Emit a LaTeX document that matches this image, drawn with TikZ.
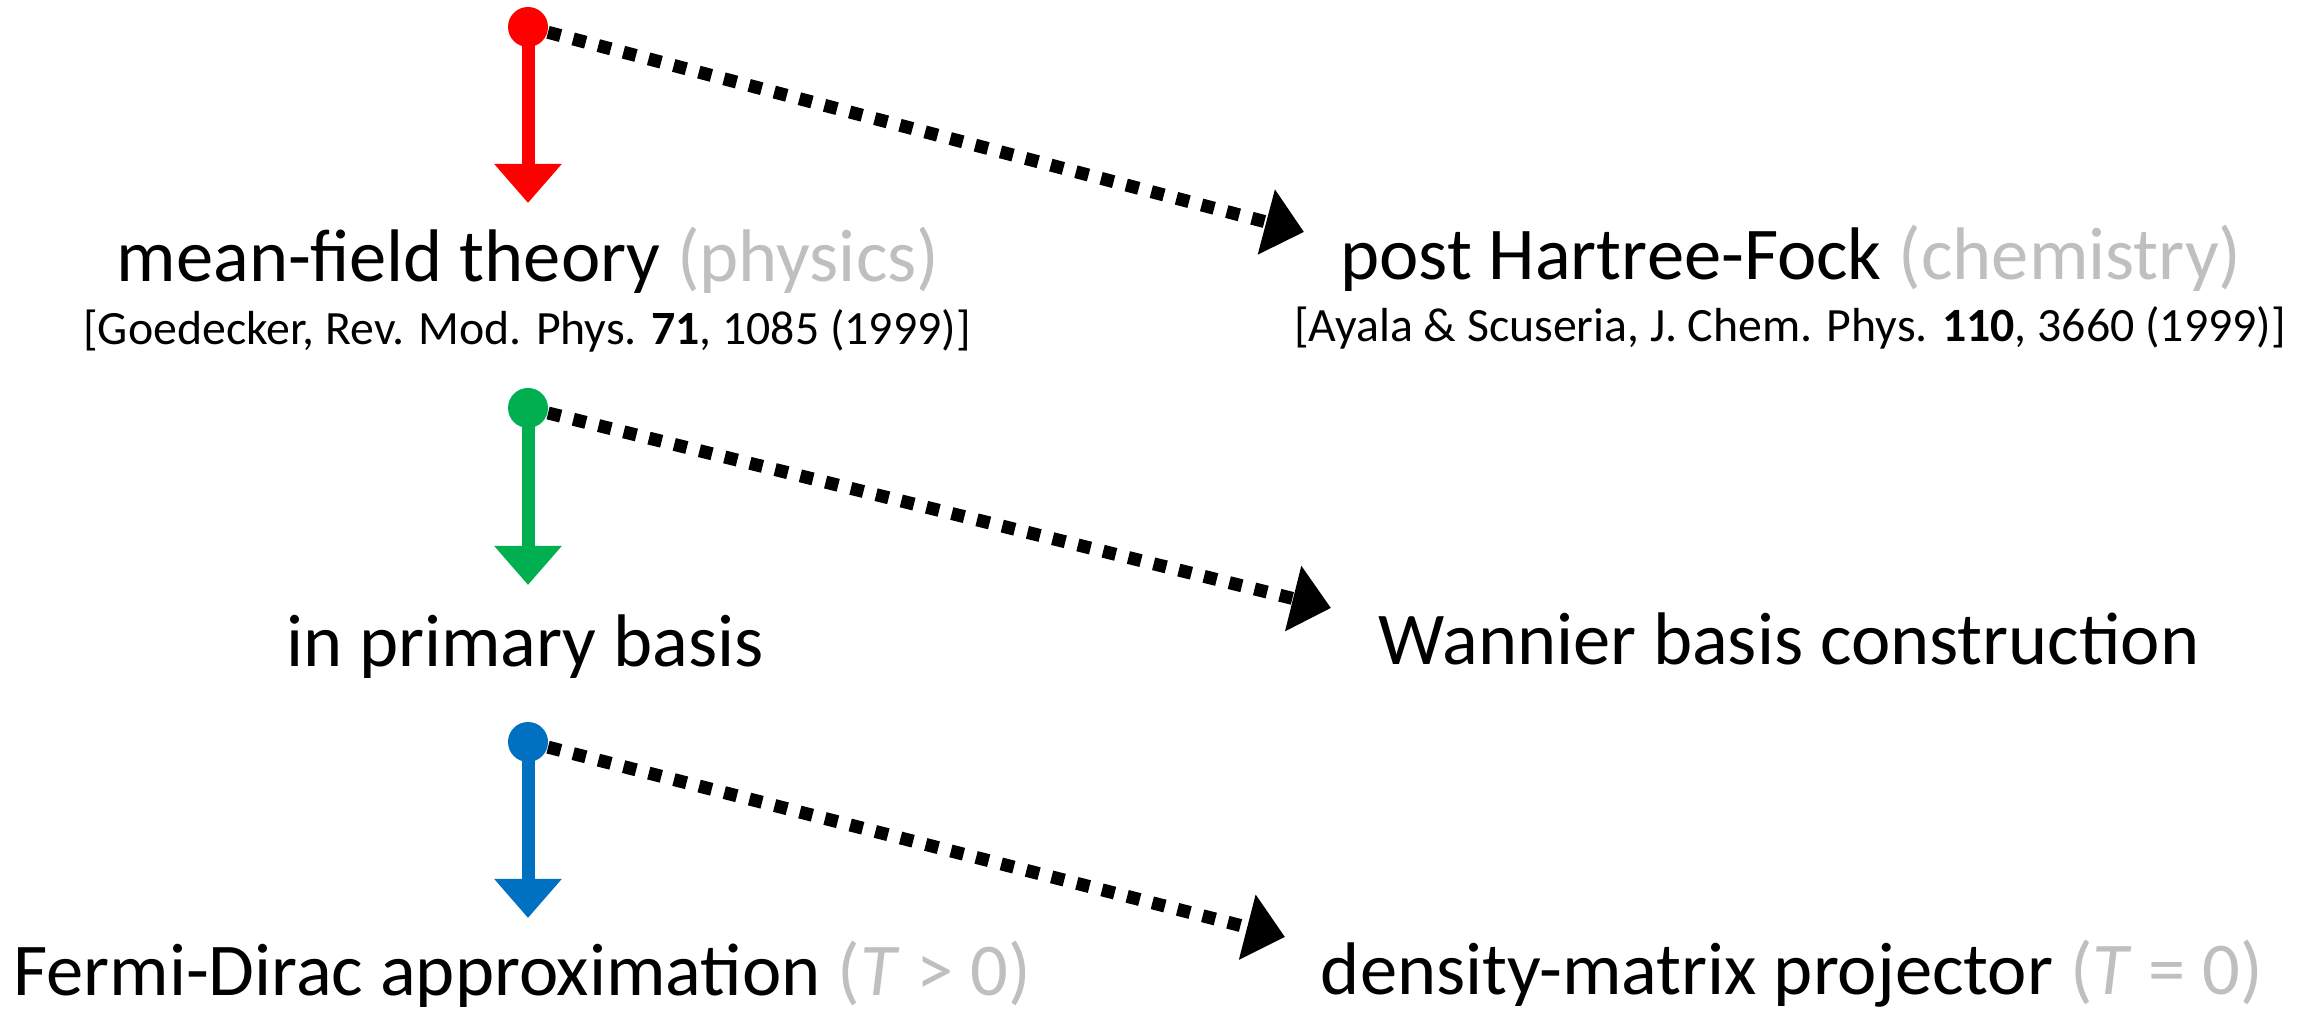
\documentclass[tikz,border=0pt]{standalone}
\usepackage{fontspec}
\setmainfont{Carlito}
\usetikzlibrary{arrows.meta}
\definecolor{myRed}{RGB}{255,0,0}
\definecolor{myGreen}{RGB}{0,176,80}
\definecolor{myBlue}{RGB}{0,112,192}
\definecolor{myGray}{RGB}{191,191,191}
\newcommand{\grayPart}[1]{\textcolor{myGray}{#1}}

\begin{document}
\begin{tikzpicture}[
    startdot/.style={circle, inner sep=0pt, minimum size=0.40cm},
    downarrow/.style={line width=0.13cm, -{Triangle[length=0.39cm, width=0.65cm]}},
    linkarrow/.style={line width=0.13cm, dash pattern=on 0.13cm off 0.13cm, -{Triangle[length=0.39cm, width=0.65cm]}},
    bigtext/.style={anchor=base, inner sep=0pt, font=\fontsize{21.2}{25}\selectfont},
    reftext/.style={anchor=base, inner sep=0pt, font=\fontsize{13.6}{16}\selectfont}
  ]
  \useasboundingbox (0,0) rectangle (23.08,10.14);
  % left column
  \node[startdot, fill=myRed] (dotA) at (5.28,9.87) {};
  \node[bigtext] (mft) at (5.28,7.32) {mean-field theory \grayPart{(physics)}};
  \node[reftext] (refA) at (5.27,6.69) {[Goedecker, Rev. Mod. Phys. \textbf{71}, 1085 (1999)]};
  \node[startdot, fill=myGreen] (dotB) at (5.28,6.06) {};
  \node[bigtext] (prim) at (5.25,3.47) {in primary basis};
  \node[startdot, fill=myBlue] (dotC) at (5.28,2.72) {};
  \node[bigtext] (fd) at (5.22,0.18) {Fermi-Dirac approximation \grayPart{(\textit{T} > 0)}};
  % right column
  \node[bigtext] (phf) at (17.91,7.34) {post Hartree-Fock \grayPart{(chemistry)}};
  \node[reftext] (refB) at (17.90,6.72) {[Ayala \& Scuseria, J. Chem. Phys. \textbf{110}, 3660 (1999)]};
  \node[bigtext] (wann) at (17.89,3.49) {Wannier basis construction};
  \node[bigtext] (dmp) at (17.92,0.19) {density-matrix projector \grayPart{(\textit{T} = 0)}};
  % arrow ends
  \coordinate (tipA) at (5.28,8.11);
  \coordinate (tipB) at (5.28,4.29);
  \coordinate (tipC) at (5.28,0.96);
  \coordinate (linkA) at (13.04,7.82);
  \coordinate (linkB) at (13.31,4.06);
  \coordinate (linkC) at (12.85,0.77);
  \draw[downarrow, myRed] (dotA.center) -- (tipA);
  \draw[downarrow, myGreen] (dotB.center) -- (tipB);
  \draw[downarrow, myBlue] (dotC.center) -- (tipC);
  \draw[linkarrow] (dotA) -- (linkA);
  \draw[linkarrow] (dotB) -- (linkB);
  \draw[linkarrow] (dotC) -- (linkC);
\end{tikzpicture}
\end{document}
